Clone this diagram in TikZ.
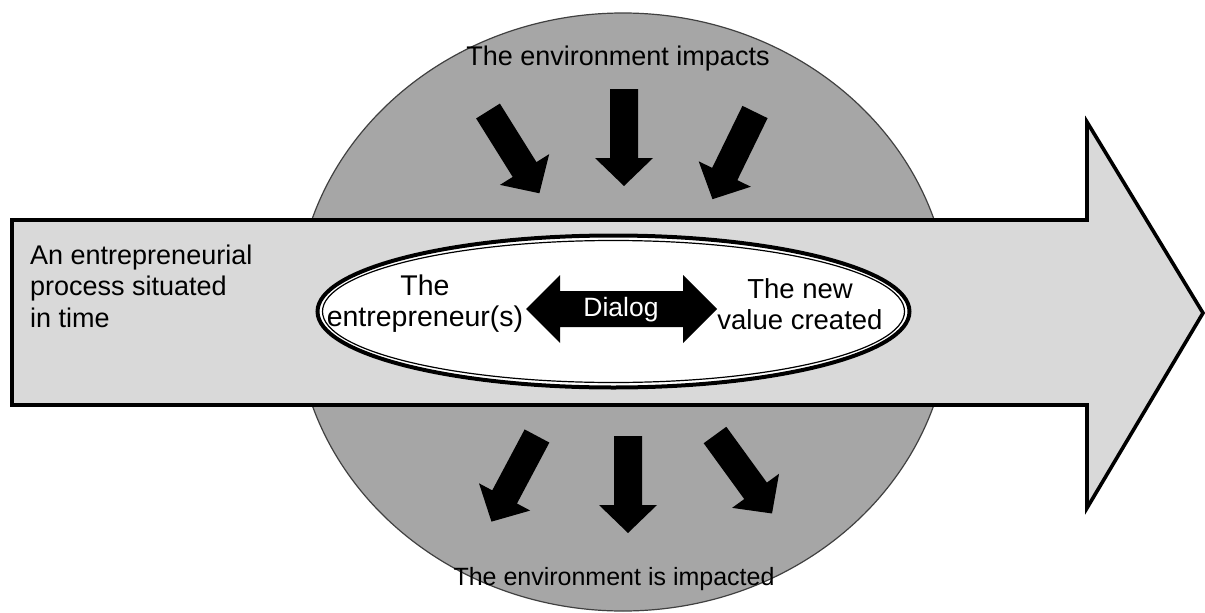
\documentclass[tikz,border=0pt]{standalone}
\usepackage{fontspec}
\setmainfont{Liberation Sans}
\usetikzlibrary{shapes.geometric}
\definecolor{envgray}{HTML}{A6A6A6}
\definecolor{procgray}{HTML}{D9D9D9}
\definecolor{rimgray}{HTML}{404040}
\tikzset{
  envshape/.style={fill=envgray,draw=rimgray,line width=1.2pt},
  procshape/.style={fill=procgray,draw=black,line width=3.6pt,line join=miter},
  blk/.style={fill=black},
  lbl/.style={font=\fontsize{25pt}{30pt}\selectfont,inner sep=0pt,align=center},
  corelbl/.style={font=\fontsize{27.5pt}{31pt}\selectfont,inner sep=0pt,align=center},
  leftlbl/.style={font=\fontsize{27pt}{31.5pt}\selectfont,inner sep=0pt,align=left},
}
\newcommand\blkarrow[3]{%
  \begin{scope}[shift={(#1,#2)},rotate=#3]
    \fill[blk] (-14,0) -- (14,0) -- (14,69) -- (29,69) -- (0,97) -- (-29,69) -- (-14,69) -- cycle;
  \end{scope}}
\begin{document}
\begin{tikzpicture}[x=1pt,y=-1pt]
\useasboundingbox (0,0) rectangle (1205,613);
% environment
\coordinate (env) at (623,312);
\draw[envshape] (env) ellipse [x radius=327,y radius=299];
% process arrow
\draw[procshape] (12,220) -- (1087,220) -- (1087,122) -- (1203,313) -- (1087,508) -- (1087,405) -- (12,405) -- cycle;
% inner ellipse
\coordinate (core) at (613.5,311.5);
\fill[white] (core) ellipse [x radius=298,y radius=78];
\draw[black,line width=4pt] (core) ellipse [x radius=296,y radius=76];
\draw[black,line width=1.2pt] (core) ellipse [x radius=291,y radius=71];
% dialog arrow
\fill[blk] (526,309) -- (560,275) -- (560,291) -- (683,291) -- (683,275) -- (717,309) -- (683,343) -- (683,327) -- (560,327) -- (560,343) -- cycle;
\node[corelbl,text=white,font=\fontsize{26.5pt}{30pt}\selectfont] (dialog) at (621,310) {Dialog};
% impact arrows
\blkarrow{488}{111}{32}
\blkarrow{624}{89}{0}
\blkarrow{755}{112}{-26}
\blkarrow{537}{436}{-28}
\blkarrow{628}{436}{0}
\blkarrow{715}{435}{36}
% texts
\node[lbl,font=\fontsize{27pt}{30pt}\selectfont] (top) at (618,59) {The environment impacts};
\node[lbl] (bottom) at (614,579) {The environment is impacted};
\node[leftlbl,anchor=west] (proc) at (30,286) {An entrepreneurial\\process situated\\in time};
\node[corelbl,font=\fontsize{28.5pt}{31pt}\selectfont] (ent) at (425,304) {The\\entrepreneur(s)};
\node[corelbl] (val) at (800,304) {The new\\value created};
\end{tikzpicture}
\end{document}
